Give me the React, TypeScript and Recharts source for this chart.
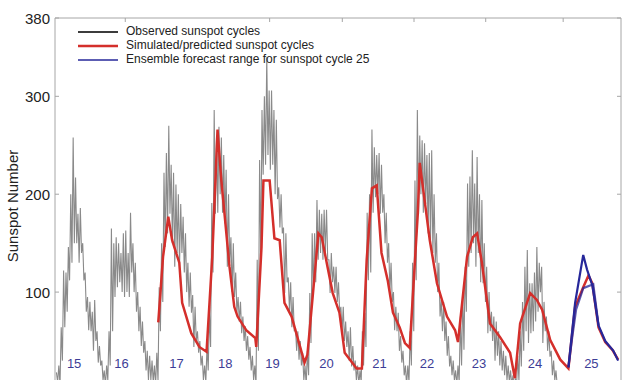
import { ComposedChart, Line, Scatter, XAxis, YAxis, Legend } from "recharts";

// observed monthly sunspot number, read as (high, low) pairs every half year
const OBS_START = 1913;
const OBS_STEP = 0.25;
const observedCycle15 = [18, 8, 25, 5, 64, 30, 122, 64, 120, 80, 146, 112, 200, 130, 258, 150, 217, 150, 180, 130, 186, 140, 150, 112, 120, 80, 95, 61, 90, 60, 80, 40, 92, 50, 60, 28, 45, 25, 30, 10, 20, 5, 25, 10];
const observedCycle16 = [60, 25, 165, 60, 150, 95, 156, 105, 150, 110, 140, 100, 160, 95, 163, 100, 140, 95, 181, 120, 150, 100, 130, 80, 100, 60, 85, 45, 70, 38, 50, 20, 40, 10, 35, 10, 30, 8, 25, 5, 38, 10];
const observedCycle17 = [105, 60, 150, 90, 222, 146, 242, 160, 270, 180, 230, 150, 222, 126, 210, 140, 200, 126, 190, 140, 177, 120, 160, 100, 130, 85, 120, 79, 97, 44, 85, 50, 60, 38, 50, 25, 35, 10, 25, 8];
const observedCycle18 = [45, 20, 80, 44, 191, 120, 286, 180, 260, 181, 269, 200, 258, 181, 240, 170, 225, 126, 200, 130, 156, 100, 150, 95, 120, 79, 95, 70, 90, 58, 75, 50, 65, 40, 55, 31, 44, 20, 35, 10, 25, 5];
const observedCycle19 = [133, 40, 235, 133, 286, 220, 300, 230, 340, 240, 306, 225, 306, 230, 286, 200, 276, 195, 207, 166, 200, 160, 166, 99, 160, 110, 115, 80, 110, 64, 95, 60, 64, 40, 60, 31, 50, 25, 38, 10, 25, 5];
const observedCycle20 = [40, 15, 99, 48, 160, 99, 160, 110, 194, 133, 184, 140, 180, 133, 184, 140, 184, 133, 133, 99, 140, 110, 126, 99, 126, 90, 110, 79, 85, 60, 85, 50, 70, 44, 60, 30, 64, 24, 45, 20, 30, 10, 25, 5, 20, 8];
const observedCycle21 = [60, 25, 79, 44, 181, 112, 200, 120, 266, 181, 248, 197, 240, 200, 242, 180, 230, 181, 200, 150, 181, 130, 150, 100, 130, 90, 100, 61, 85, 60, 79, 40, 55, 28, 40, 15, 25, 5, 25, 8];
const observedCycle22 = [60, 25, 130, 60, 214, 112, 286, 180, 260, 200, 255, 181, 252, 190, 240, 160, 242, 150, 245, 140, 200, 130, 160, 100, 130, 75, 92, 60, 90, 50, 70, 35, 55, 24, 35, 15, 30, 10, 20, 5, 25, 8];
const observedCycle23 = [75, 25, 100, 41, 126, 80, 211, 126, 218, 140, 245, 150, 211, 126, 238, 140, 200, 110, 194, 109, 150, 90, 126, 58, 100, 60, 80, 50, 75, 30, 70, 35, 60, 25, 50, 20, 40, 15, 35, 10, 25, 8, 20, 5, 15, 3, 12, 3];
const observedCycle24 = [35, 10, 60, 24, 90, 40, 126, 60, 143, 48, 109, 58, 109, 60, 120, 70, 146, 80, 130, 100, 126, 48, 90, 60, 75, 40, 60, 34, 40, 15, 30, 10, 20, 5, 10, 5];

// simulated / predicted cycles (red)
const simulatedYears = [1934.3, 1935.3, 1936.4, 1937.2, 1938.7, 1939.3, 1941.2, 1942.9, 1944.4, 1945.6, 1946.7, 1947.5, 1949.2, 1950.2, 1950.9, 1952.7, 1954.6, 1954.8, 1955.9, 1956.3, 1957.6, 1958.6, 1959.7, 1960.7, 1962.2, 1963.4, 1964.9, 1965.5, 1967.8, 1968.5, 1969.7, 1970.8, 1972.2, 1973.3, 1975.8, 1976.9, 1977.9, 1979.0, 1980.0, 1981.0, 1982.3, 1983.4, 1984.8, 1985.9, 1986.9, 1988.6, 1989.0, 1991.1, 1992.6, 1994.7, 1996.4, 1997.0, 1998.9, 2000.1, 2001.0, 2002.0, 2003.7, 2005.8, 2007.9, 2008.9, 2010.0, 2012.1, 2013.5, 2014.6, 2016.3, 2018.4, 2020.1, 2021.5, 2023.2, 2024.3, 2025.1, 2026.4, 2027.8, 2029.3, 2030.5];
const simulatedValues = [69, 136, 177, 153, 130, 89, 58, 44, 39, 136, 266, 214, 126, 85, 75, 61, 53, 44, 146, 214, 214, 155, 153, 89, 75, 54, 28, 36, 160, 156, 126, 99, 79, 38, 22, 22, 133, 206, 209, 140, 112, 79, 64, 48, 43, 181, 232, 153, 109, 75, 61, 49, 136, 156, 160, 130, 68, 54, 38, 12, 68, 99, 92, 82, 51, 31, 22, 85, 105, 117, 109, 64, 49, 41, 31];

// ensemble forecast range for cycle 25 (blue)
const forecastHighYears = [2020.1, 2021.5, 2023.2, 2024.0, 2025.1, 2026.4, 2027.8, 2029.5, 2030.5];
const forecastHighValues = [23, 89, 138, 123, 107, 66, 50, 40, 30];
const forecastLowYears = [2020.1, 2020.9, 2021.7, 2022.6, 2023.2, 2025.3, 2026.4];
const forecastLowValues = [23, 54, 82, 95, 104, 108, 66];

const cycleNumbers = ["15", "16", "17", "18", "19", "20", "21", "22", "23", "24", "25"];
const cycleLabelYears = [1916.7, 1926.6, 1938.1, 1948.3, 1958.2, 1969.5, 1980.6, 1990.5, 2001.4, 2013.1, 2024.9];
const CYCLE_LABEL_LEVEL = 27;

const yTicks = [100, 200, 300, 380];
const topTicks = [1927.4, 1957.6, 1972.8, 1987.8, 2002.8, 2019.0];
const legendNames = [
  "Observed sunspot cycles",
  "Simulated/predicted sunspot cycles",
  "Ensemble forecast range for sunspot cycle 25",
];

const FONT = '"Liberation Sans", Arial, Helvetica, sans-serif';
const AXIS_GRAY = "#a6a6a6";
const GRAY = "#8a8a8a";
const RED = "#d42f2b";
const BLUE = "#26279a";
const LEGEND_COLORS = ["#3c3c3c", RED, BLUE];
const LEGEND_WIDTHS = [2, 2.5, 1.5];

const observedValues = [
  ...observedCycle15, ...observedCycle16, ...observedCycle17, ...observedCycle18, ...observedCycle19,
  ...observedCycle20, ...observedCycle21, ...observedCycle22, ...observedCycle23, ...observedCycle24,
];
const observedData = observedValues.map((v, i) => ({ year: OBS_START + i * OBS_STEP, value: v }));
const simulatedData = simulatedYears.map((y, i) => ({ year: y, value: simulatedValues[i] }));
const forecastHighData = forecastHighYears.map((y, i) => ({ year: y, value: forecastHighValues[i] }));
const forecastLowData = forecastLowYears.map((y, i) => ({ year: y, value: forecastLowValues[i] }));
const cycleLabelData = cycleNumbers.map((n, i) => ({ year: cycleLabelYears[i], value: CYCLE_LABEL_LEVEL, name: n }));

function LeftTick(props: any) {
  const { x, y, payload } = props;
  return (
    <g>
      <line x1={x} y1={y} x2={x + 4} y2={y} stroke={AXIS_GRAY} />
      <text x={x - 5} y={y} textAnchor="end" dominantBaseline="central" fontSize={15} fill="#222" fontFamily={FONT}>
        {payload.value}
      </text>
    </g>
  );
}

function RightTick(props: any) {
  const { x, y } = props;
  return <line x1={x - 4} y1={y} x2={x} y2={y} stroke={AXIS_GRAY} />;
}

function TopTick(props: any) {
  const { x, y } = props;
  return <line x1={x} y1={y} x2={x} y2={y + 4} stroke={AXIS_GRAY} />;
}

function CycleLabel(props: any) {
  const { cx, cy, payload } = props;
  return (
    <text x={cx} y={cy} textAnchor="middle" dominantBaseline="central" fontSize={13} fill="#3d3d96" fontFamily={FONT}>
      {payload.name}
    </text>
  );
}

function YTitle(props: any) {
  const vb = props.viewBox;
  const cx = vb.x + 12;
  const cy = vb.y + vb.height / 2 + 2;
  return (
    <text x={cx} y={cy} transform={`rotate(-90 ${cx} ${cy})`} textAnchor="middle" dominantBaseline="central" fontSize={15} fill="#222" fontFamily={FONT}>
      Sunspot Number
    </text>
  );
}

function LegendBox() {
  return (
    <div style={{ fontFamily: FONT, fontSize: 12, color: "#222", lineHeight: "13.8px" }}>
      {legendNames.map((name, i) => (
        <div key={name} style={{ display: "flex", alignItems: "center" }}>
          <svg width={50} height={13.8} style={{ display: "block" }}>
            <line x1={2} y1={7} x2={42} y2={7} stroke={LEGEND_COLORS[i]} strokeWidth={LEGEND_WIDTHS[i]} />
          </svg>
          <span>{name}</span>
        </div>
      ))}
    </div>
  );
}

export default function App() {
  return (
    <div style={{ position: "absolute", left: 0, top: 0, background: "#fff" }}>
      <ComposedChart width={640} height={400} margin={{ top: 17, right: 18, bottom: 10, left: 0 }}>
        <XAxis
          dataKey="year"
          type="number"
          orientation="top"
          height={1}
          domain={[1912.7, 2031.1]}
          allowDataOverflow
          ticks={topTicks}
          interval={0}
          tickSize={0}
          tickMargin={0}
          tickLine={false}
          tick={<TopTick />}
          axisLine={{ stroke: AXIS_GRAY }}
        />
        <YAxis
          type="number"
          domain={[0, 380]}
          allowDataOverflow
          ticks={yTicks}
          interval={0}
          width={55}
          tickSize={0}
          tickMargin={0}
          tickLine={false}
          tick={<LeftTick />}
          axisLine={{ stroke: AXIS_GRAY }}
          label={(p: any) => <YTitle {...p} />}
        />
        <YAxis
          yAxisId="right"
          orientation="right"
          type="number"
          domain={[0, 380]}
          allowDataOverflow
          ticks={yTicks}
          interval={0}
          width={1}
          tickSize={0}
          tickMargin={0}
          tickLine={false}
          tick={<RightTick />}
          axisLine={{ stroke: AXIS_GRAY }}
        />
        <Legend
          layout="vertical"
          verticalAlign="middle"
          align="center"
          wrapperStyle={{ top: 25, left: 76, width: "auto" }}
          content={() => <LegendBox />}
        />
        <Line data={observedData} dataKey="value" type="linear" stroke={GRAY} strokeWidth={1.1} dot={false} isAnimationActive={false} />
        <Line data={simulatedData} dataKey="value" type="linear" stroke={RED} strokeWidth={2.5} dot={false} isAnimationActive={false} />
        <Line data={forecastLowData} dataKey="value" type="linear" stroke={BLUE} strokeWidth={2.2} strokeOpacity={0.75} dot={false} isAnimationActive={false} />
        <Line data={forecastHighData} dataKey="value" type="linear" stroke={BLUE} strokeWidth={2.2} dot={false} isAnimationActive={false} />
        <Scatter data={cycleLabelData} dataKey="value" shape={<CycleLabel />} isAnimationActive={false} />
      </ComposedChart>
    </div>
  );
}
